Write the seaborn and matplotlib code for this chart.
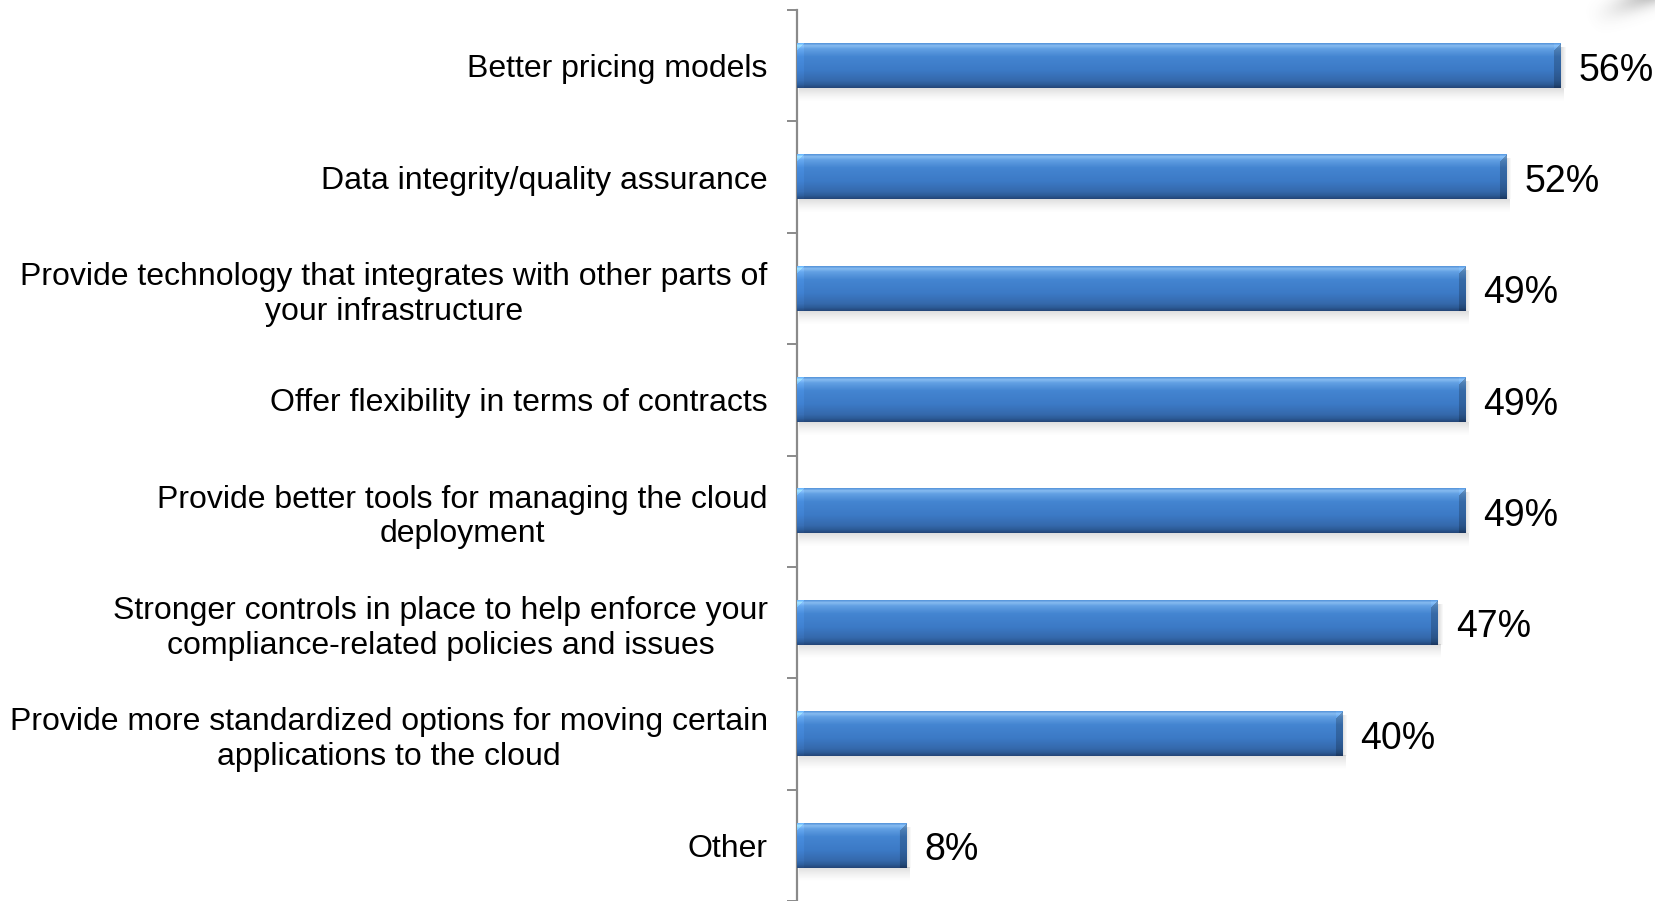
import numpy as np
import matplotlib
matplotlib.use("Agg")
import matplotlib.pyplot as plt
from matplotlib.colors import to_rgb
import seaborn as sns

# Survey answers, top to bottom
labels = [
    "Better pricing models",
    "Data integrity/quality assurance",
    "Provide technology that integrates with other parts of\nyour infrastructure",
    "Offer flexibility in terms of contracts",
    "Provide better tools for managing the cloud\ndeployment",
    "Stronger controls in place to help enforce your\ncompliance-related policies and issues",
    "Provide more standardized options for moving certain\napplications to the cloud",
    "Other",
]
values = [56, 52, 49, 49, 49, 47, 40, 8]

sns.set_style("white")
plt.rcParams["font.family"] = ["Liberation Sans", "DejaVu Sans"]

W, H, DPI = 1656, 901, 100
fig = plt.figure(figsize=(W / DPI, H / DPI), dpi=DPI)
fig.patch.set_facecolor("white")

ax_left, ax_top = 797, 10
ax = fig.add_axes([ax_left / W, 0, (W - ax_left) / W, (H - ax_top) / H])

sns.barplot(x=values, y=labels, orient="h", width=0.4, color="#3d7cc9",
            saturation=1, ax=ax, zorder=3)

XMAX = 63.0
ax.set_xlim(0, XMAX)
ax.set_ylim(len(labels) - 0.5, -0.5)

# pixel sizes in data units
px_x = XMAX / (W - ax_left)
px_y = len(labels) / (H - ax_top)


def vertical_profile(n):
    stops = [
        (0.00, "#5a98dc"),
        (0.05, "#86bbf0"),
        (0.12, "#62a0e3"),
        (0.30, "#4485d1"),
        (0.60, "#3c7ac6"),
        (0.84, "#3569ac"),
        (0.93, "#2c5b96"),
        (1.00, "#24477a"),
    ]
    t = np.linspace(0, 1, n)
    pos = [s[0] for s in stops]
    cols = np.array([to_rgb(s[1]) for s in stops])
    return np.stack([np.interp(t, pos, cols[:, k]) for k in range(3)], axis=1)


for patch in list(ax.patches):
    x0, y0 = patch.get_x(), patch.get_y()
    w, h = patch.get_width(), patch.get_height()
    patch.set_facecolor("none")
    patch.set_edgecolor("none")

    ny = max(int(round(h / px_y)), 2)
    nx = max(int(round(w / px_x)), 2)
    prof = vertical_profile(ny)
    img = np.repeat(prof[:, None, :], nx, axis=1)
    # bevelled ends: darker right edge, lighter left edge, lit top corners
    bev = 7
    xs = np.arange(nx)
    right = xs >= nx - bev
    img[:, right, :] *= 0.80
    left = xs < bev
    img[:, left, :] = np.clip(img[:, left, :] * 1.06, 0, 1)
    for j in range(min(bev, ny)):
        for i in range(bev):
            if i + j < bev:
                img[j, nx - bev + i, :] = np.clip(img[j, nx - bev + i, :] * 1.3, 0, 1)
                img[j, i, :] = np.clip(img[j, i, :] * 1.15, 0, 1)
    ax.imshow(img, extent=(x0, x0 + w, y0 + h, y0), aspect="auto",
              interpolation="bilinear", zorder=3)

    # soft drop shadow under and right of the bar
    sh_n = 14
    alpha = np.linspace(0.32, 0.0, sh_n) ** 1.3
    sh = np.zeros((sh_n, 2, 4))
    sh[:, :, :3] = 0.45
    sh[:, :, 3] = alpha[:, None]
    ax.imshow(sh, extent=(x0 + 2 * px_x, x0 + w + 3 * px_x,
                          y0 + h + sh_n * px_y, y0 + h),
              aspect="auto", interpolation="bilinear", zorder=2)
    shr = np.zeros((2, 6, 4))
    shr[:, :, :3] = 0.45
    shr[:, :, 3] = np.linspace(0.25, 0.0, 6)[None, :]
    ax.imshow(shr, extent=(x0 + w, x0 + w + 6 * px_x,
                           y0 + h, y0 + 4 * px_y),
              aspect="auto", interpolation="bilinear", zorder=2)

    ax.annotate(f"{int(round(w))}%", xy=(x0 + w, y0 + h / 2),
                xytext=(13, -3.5), textcoords="offset points",
                ha="left", va="center", fontsize=27, color="black")

ax.set_xlim(0, XMAX)
ax.set_ylim(len(labels) - 0.5, -0.5)

# axes styling: single grey spine, boundary ticks, no x axis
for side in ("top", "right", "bottom"):
    ax.spines[side].set_visible(False)
ax.spines["left"].set_color("#8a8a8a")
ax.spines["left"].set_linewidth(1.6)
ax.set_xticks([])
ax.set_xlabel("")
ax.set_ylabel("")
ax.set_yticks(np.arange(len(labels)))
ax.set_yticklabels(labels, fontsize=23, ha="right", linespacing=1.2,
                   multialignment="center", color="black")
ax.set_yticks(np.arange(len(labels) + 1) - 0.5, minor=True)
ax.tick_params(axis="y", which="major", length=0, pad=21)
ax.tick_params(axis="y", which="minor", length=7.5, width=1.4,
               color="#8a8a8a", direction="out", left=True)
ax.set_facecolor("white")

# soft page-curl shading in the upper right corner
cx0, cy0, cw, ch = 1500, 0, 156, 60
gy, gx = np.mgrid[0:ch, 0:cw]
px = gx + cx0
py = gy + cy0
a = np.array([1660.0, -12.0])
b = np.array([1585.0, 22.0])
d = b - a
t = np.clip(((px - a[0]) * d[0] + (py - a[1]) * d[1]) / (d @ d), 0, 1)
dist = np.hypot(px - (a[0] + t * d[0]), py - (a[1] + t * d[1]))
alpha = np.exp(-(dist / 12.0) ** 2) * (0.6 * (1 - t) ** 1.6)
curl = np.zeros((ch, cw, 4))
curl[..., :3] = 0.4
curl[..., 3] = alpha
cax = fig.add_axes([cx0 / W, 1 - (cy0 + ch) / H, cw / W, ch / H])
cax.imshow(curl, aspect="auto", interpolation="bilinear")
cax.axis("off")

fig.savefig("out.png", dpi=DPI, facecolor="white")
